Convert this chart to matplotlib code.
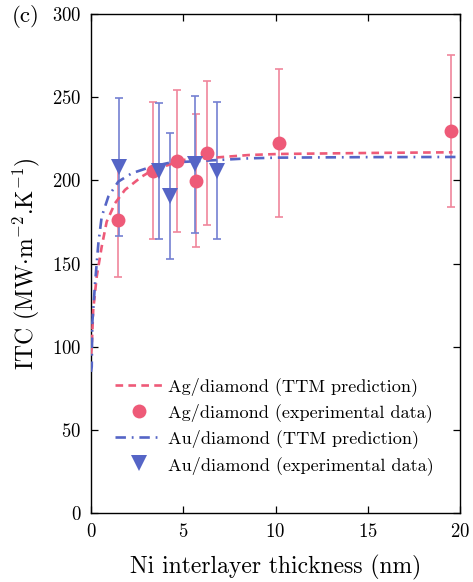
import matplotlib
matplotlib.use("Agg")
import matplotlib.pyplot as plt

plt.rcParams['font.family'] = 'serif'
plt.rcParams['font.serif'] = ['cmr10']
plt.rcParams['mathtext.fontset'] = 'cm'
plt.rcParams['axes.formatter.use_mathtext'] = True
plt.rcParams['lines.scale_dashes'] = False

# Experimental data
ag_x = [1.47, 3.38, 4.68, 5.69, 6.27, 10.19, 19.5]
ag_y = [176.5, 205.9, 211.8, 199.9, 216.3, 222.7, 229.7]
ag_err = [34.8, 41.2, 42.6, 39.8, 43.3, 44.5, 45.9]

au_x = [1.53, 3.69, 4.28, 5.64, 6.81]
au_y = [208.2, 205.9, 190.7, 209.6, 205.9]
au_err = [41.6, 40.9, 38.0, 41.3, 41.3]

# TTM prediction curves
ag_ttm_x = [0.0, 0.04, 0.12, 0.31, 0.58, 0.85, 1.30, 1.84, 2.75, 3.29, 5.0, 8.6, 10.2, 15.0, 19.6]
ag_ttm_y = [95.0, 100.1, 122.2, 142.2, 160.2, 175.2, 186.3, 194.3, 202.3, 205.9, 212.3, 215.3, 215.9, 216.5, 216.9]

au_ttm_x = [0.0, 0.04, 0.07, 0.22, 0.40, 0.58, 0.94, 1.48, 2.21, 3.29, 4.28, 8.6, 10.2, 15.0, 19.8]
au_ttm_y = [85.0, 88.1, 114.2, 138.2, 162.3, 178.2, 190.3, 199.3, 204.3, 208.3, 210.7, 213.3, 213.7, 214.0, 214.1]

labels = ['Ag/diamond (TTM prediction)', 'Ag/diamond (experimental data)',
          'Au/diamond (TTM prediction)', 'Au/diamond (experimental data)']

red = '#EE5A78'
red_bar = '#F0869C'
blue = '#5565C6'
blue_bar = '#7480D2'

fig = plt.figure(figsize=(4.73, 5.82), dpi=100)
ax = fig.add_axes([91/473, 1-513.3/582, (460-91)/473, (513.3-14)/582])

ax.errorbar(ag_x, ag_y, yerr=ag_err, fmt='none', ecolor=red_bar, elinewidth=1.2,
            capsize=3, capthick=1.2, zorder=2)
ax.errorbar(au_x, au_y, yerr=au_err, fmt='none', ecolor=blue_bar, elinewidth=1.2,
            capsize=3, capthick=1.2, zorder=2)

l1, = ax.plot(ag_ttm_x, ag_ttm_y, color=red, lw=1.9, dashes=[5.5, 3.8], zorder=3)
l3, = ax.plot(au_ttm_x, au_ttm_y, color=blue, lw=1.9, dashes=[7.5, 4.2, 1.3, 4.2], zorder=3)

m2, = ax.plot(ag_x, ag_y, 'o', color=red, ms=10, mew=0, zorder=4)
m4, = ax.plot(au_x, au_y, 'v', color=blue, ms=11.5, mew=0, zorder=5)

ax.set_xlim(0, 20)
ax.set_ylim(0, 300)
ax.set_xticks([0, 5, 10, 15, 20])
ax.set_yticks([0, 50, 100, 150, 200, 250, 300])
ax.tick_params(direction='in', length=5, width=0.9, labelsize=13.5, top=True, right=True, pad=7)
for s in ax.spines.values():
    s.set_linewidth(1.0)

ax.set_xlabel('Ni interlayer thickness (nm)', fontsize=17, labelpad=10)
ax.set_ylabel(r'ITC (MW$\cdot$m$^{-2}$.K$^{-1}$)', fontsize=17, labelpad=7)

leg = ax.legend([l1, m2, l3, m4], labels, loc='lower left', bbox_to_anchor=(0.045, 0.063),
                frameon=False, fontsize=13.1, handlelength=2.6, handletextpad=0.3,
                labelspacing=0.4, borderaxespad=0)

fig.text(12/473, 1-16/582, '(c)', fontsize=16.5, ha='left', va='center')

fig.savefig('out.png', dpi=100)
